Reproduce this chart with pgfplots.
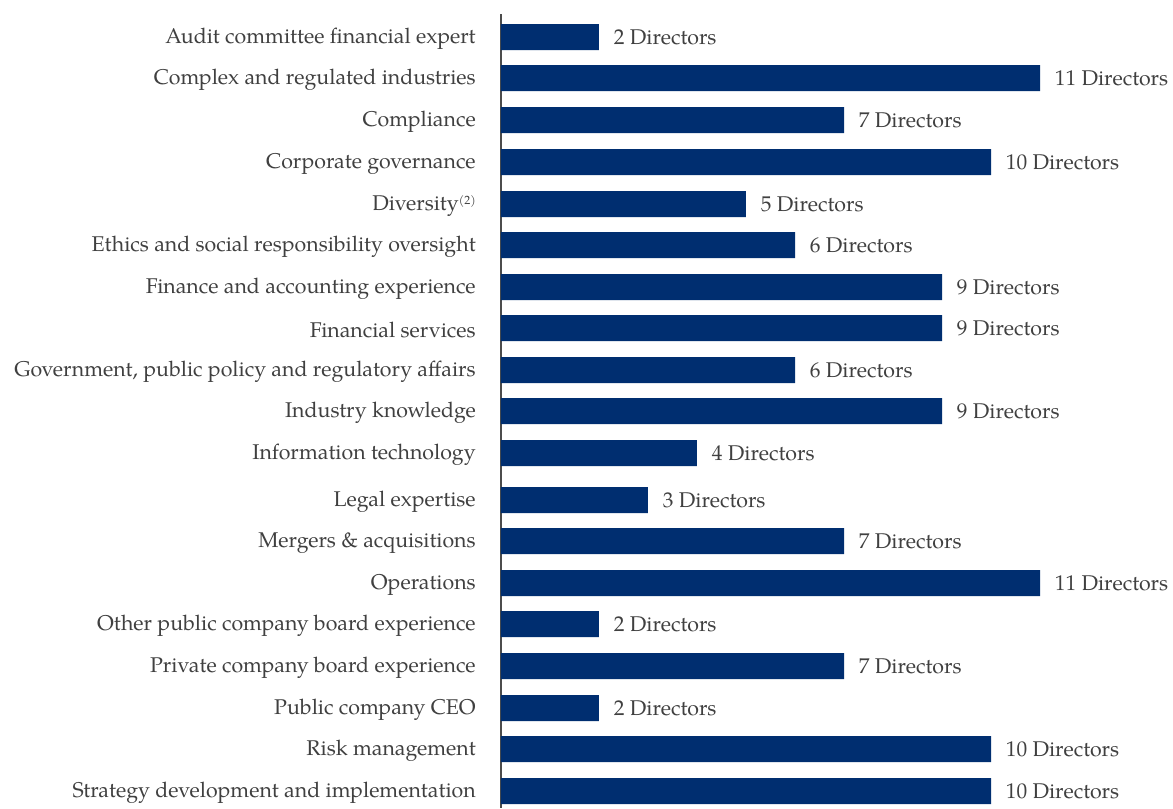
\documentclass[border=0pt]{standalone}
\usepackage{pgfplots}
\pgfplotsset{compat=1.18}
\usepackage{fontspec}
\setmainfont{TeX Gyre Pagella}
\definecolor{barblue}{RGB}{0,46,112}
\definecolor{txt}{RGB}{64,64,64}
\begin{document}
\begin{tikzpicture}[x=1pt,y=1pt]
\begin{axis}[
  at={(0,0)}, anchor=south west,
  scale only axis,
  width=404.25pt, height=595.5pt,
  xbar, bar width=19.5pt,
  xmin=0, xmax=11,
  y dir=reverse, ymin=14, ymax=808,
  axis y line*=left, axis x line=none,
  y axis line style={draw=black!70, line width=1.2pt, -},
  ytick={37,78,120,162,204,245,287,328,370,411,453,500,541,583,624,666,708,749,791},
  yticklabels={Audit committee financial expert,Complex and regulated industries,Compliance,Corporate governance,Diversity{\fontsize{9}{10}\selectfont\raisebox{5pt}{(2)}},Ethics and social responsibility oversight,Finance and accounting experience,Financial services,{Government, public policy and regulatory affairs},Industry knowledge,Information technology,Legal expertise,Mergers \& acquisitions,Operations,Other public company board experience,Private company board experience,Public company CEO,Risk management,Strategy development and implementation},
  major tick length=0pt,
  yticklabel style={font=\fontsize{16}{19}\selectfont, text=txt, anchor=east, inner sep=0pt, xshift=-18.75pt, yshift=-1.5pt},
  point meta=x,
  nodes near coords={\pgfmathprintnumber[assume math mode=true]{\pgfplotspointmeta}~Directors},
  nodes near coords style={font=\fontsize{16}{19}\selectfont, text=txt, anchor=west, inner sep=0pt, xshift=11pt},
  clip=false,
]
\addplot[fill=barblue, draw=none] coordinates {
(2,37) (11,78) (7,120) (10,162) (5,204) (6,245) (9,287) (9,328) (6,370) (9,411) (4,453) (3,500) (7,541) (11,583) (2,624) (7,666) (2,708) (10,749) (10,791)};
\end{axis}
\pgfresetboundingbox
\path[use as bounding box] (-375.75pt,0pt) rectangle (504pt,606pt);
\end{tikzpicture}
\end{document}
